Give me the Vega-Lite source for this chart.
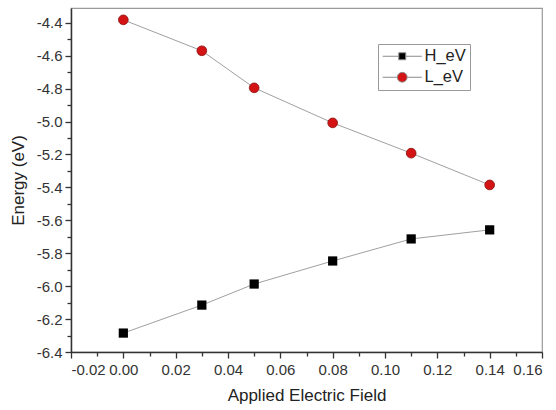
{
  "$schema": "https://vega.github.io/schema/vega-lite/v6.json",
  "width": 471,
  "height": 344,
  "autosize": {"type": "none"},
  "padding": {"left": 71, "top": 8, "right": 14, "bottom": 58},
  "background": "white",
  "config": {
    "view": {"stroke": "#9a9a9a", "strokeWidth": 1.2},
    "font": "Liberation Sans",
    "axis": {
      "domainColor": "#333",
      "domainWidth": 1.5,
      "tickColor": "#333",
      "tickWidth": 1.3,
      "labelColor": "#333",
      "labelFontSize": 15,
      "titleColor": "#222",
      "titleFontSize": 17,
      "titleFontWeight": "normal",
      "grid": false
    }
  },
  "data": {
    "values": [
      {"field": 0.00, "energy": -6.285, "series": "H_eV"},
      {"field": 0.03, "energy": -6.115, "series": "H_eV"},
      {"field": 0.05, "energy": -5.987, "series": "H_eV"},
      {"field": 0.08, "energy": -5.847, "series": "H_eV"},
      {"field": 0.11, "energy": -5.713, "series": "H_eV"},
      {"field": 0.14, "energy": -5.658, "series": "H_eV"},
      {"field": 0.00, "energy": -4.382, "series": "L_eV"},
      {"field": 0.03, "energy": -4.570, "series": "L_eV"},
      {"field": 0.05, "energy": -4.795, "series": "L_eV"},
      {"field": 0.08, "energy": -5.008, "series": "L_eV"},
      {"field": 0.11, "energy": -5.192, "series": "L_eV"},
      {"field": 0.14, "energy": -5.385, "series": "L_eV"}
    ]
  },
  "encoding": {
    "x": {
      "field": "field", "type": "quantitative",
      "scale": {"domain": [-0.02, 0.16], "nice": false, "zero": false},
      "axis": {
        "title": "Applied Electric Field",
        "values": [-0.02,-0.01,0,0.01,0.02,0.03,0.04,0.05,0.06,0.07,0.08,0.09,0.1,0.11,0.12,0.13,0.14,0.15,0.16],
        "labelExpr": "abs(round(datum.value*100)) % 2 == 0 ? replace(format(datum.value, '.2f'), '\u2212', '-') : ''",
        "tickSize": {"condition": {"test": "abs(round(datum.value*100)) % 2 == 0", "value": 6}, "value": 4},
        "labelPadding": 4,
        "titlePadding": 10
      }
    },
    "y": {
      "field": "energy", "type": "quantitative",
      "scale": {"domain": [-6.4, -4.31], "nice": false, "zero": false},
      "axis": {
        "title": "Energy (eV)",
        "values": [-6.4,-6.3,-6.2,-6.1,-6.0,-5.9,-5.8,-5.7,-5.6,-5.5,-5.4,-5.3,-5.2,-5.1,-5.0,-4.9,-4.8,-4.7,-4.6,-4.5,-4.4],
        "labelExpr": "abs(round(datum.value*10)) % 2 == 0 ? replace(format(datum.value, '.1f'), '\u2212', '-') : ''",
        "tickSize": {"condition": {"test": "abs(round(datum.value*10)) % 2 == 0", "value": 6}, "value": 4},
        "labelPadding": 3,
        "titlePadding": 9
      }
    }
  },
  "layer": [
    {
      "mark": {"type": "line", "color": "#a0a0a0", "strokeWidth": 1},
      "encoding": {"detail": {"field": "series"}}
    },
    {
      "transform": [{"filter": "datum.series == 'H_eV'"}],
      "mark": {"type": "point", "shape": "square", "filled": true, "size": 85, "color": "#000000", "opacity": 1}
    },
    {
      "transform": [{"filter": "datum.series == 'L_eV'"}],
      "mark": {"type": "point", "shape": "circle", "filled": true, "size": 95, "color": "#d41414", "opacity": 1, "stroke": "#8a1010", "strokeWidth": 0.8}
    },
    {
      "mark": {"type": "point", "size": 0, "opacity": 1, "stroke": "#8c8c8c", "strokeWidth": 1},
      "encoding": {
        "fill": {
          "field": "series", "type": "nominal",
          "scale": {"domain": ["H_eV", "L_eV"], "range": ["#000000", "#d41414"]},
          "legend": {
            "title": null,
            "orient": "none",
            "legendX": 307,
            "legendY": 36,
            "strokeColor": "#999",
            "padding": 4,
            "labelFontSize": 16.5,
            "labelColor": "#222",
            "symbolSize": 49,
            "symbolOpacity": 1,
            "symbolStrokeColor": "#8c8c8c",
            "symbolStrokeWidth": 1,
            "symbolOffset": 12,
            "labelOffset": 14,
            "rowPadding": 4
          }
        },
        "shape": {
          "field": "series", "type": "nominal",
          "scale": {"domain": ["H_eV", "L_eV"], "range": ["M-5.6,0H-1M1,0H5.6M-1,-1H1V1H-1Z", "M-5.6,0H-1.4M1.4,0H5.6M-1.4,0A1.4,1.4,0,1,1,1.4,0A1.4,1.4,0,1,1,-1.4,0Z"]}
        }
      }
    }
  ]
}
